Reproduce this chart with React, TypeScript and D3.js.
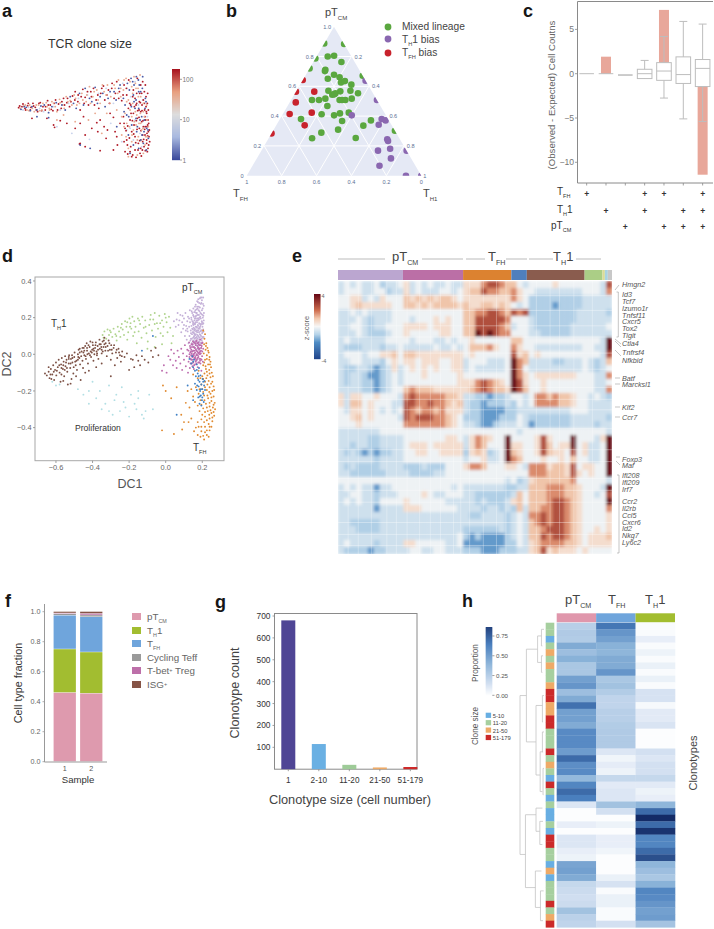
import React from 'react';
import * as d3 from 'd3';

const FONT = '"Liberation Sans", Arial, sans-serif';

// ---------- Panel a: clone size embedding (x, y pairs)
const aHigh = [5,157,15,160,24,155,32,163,40,150,48,170,55,158,62,145,70,172,78,160,85,150,92,178,100,165,108,148,116,180,125,168,133,155,140,185,150,172,158,160,167,192,175,205,183,175,190,150,198,212,205,188,215,165,222,205,230,215,238,180,246,155,252,200,260,222,270,195,278,170,285,215,292,185,300,235,308,205,315,178,322,225,330,195,336,240,342,165,350,210,355,185,362,245,367,150,372,225,45,125,90,125,110,105,113,98,188,48,190,50,205,40,250,28,243,85,240,112,190,110,200,130,290,128,272,90,250,120,280,140,310,110,300,70,290,30,320,130,325,95,330,60,325,25,335,155,340,120,345,85,342,40,350,140,352,105,355,70,348,15,360,170,362,125,365,50,368,95,370,20,372,145,375,115,378,75,380,180,382,40,385,130,386,100,388,160,390,60,392,25,394,120,395,85,396,45,375,200,383,205,388,190,360,200,368,175,376,165,380,100,385,75,378,55,372,35,355,30,340,25,332,45,322,55,390,140,393,105,391,80,384,150,328,88,333,102,338,66,343,140,347,118,351,78,353,160,357,52,359,118,361,92,363,148,364,30,367,128,369,58,371,172,373,88,374,12,376,148,377,30,379,118,381,62,383,170,384,92,386,28,387,120,389,145,390,50,391,100,392,170,393,72,394,35,395,150,396,110,397,70,398,90,399,55,393,200,386,225,378,235,369,200,358,165,348,190,339,170,329,215,319,195,306,185,296,200,286,230,275,210,264,180,255,215,243,195,233,165,224,190,212,205,202,170,193,190,184,195,174,180,162,175,152,185,143,165,135,175,122,150,112,170,103,152,94,165,86,160,74,148,66,170,58,150,50,162,42,158,34,170,26,150,18,168,8,162,130,118,150,110,175,95,205,75,225,95,262,100,268,65,295,85,322,110,302,45,345,10,358,8,333,18];
const aMid = [10,155,20,162,30,150,38,165,52,145,65,165,75,150,88,172,97,155,105,175,115,160,128,182,138,165,148,190,160,178,172,195,180,165,195,200,208,175,218,220,228,190,240,210,250,170,262,205,272,225,282,190,295,215,305,240,312,190,320,210,328,245,335,180,345,220,352,250,358,215,365,190,370,255,340,150,330,110,350,90,360,135,345,55,335,10,365,70,372,110,380,145,385,45,392,70,375,90,358,105,345,130,348,170,270,140,255,80,235,140,215,120,175,115,140,135,120,120,300,150,315,75,335,35,362,15,325,140,390,165,380,20,315,130,322,100,328,70,338,100,346,75,353,115,356,145,362,60,367,110,371,140,374,60,379,95,383,130,387,70,391,120,395,100,380,170,372,190,364,215,356,230,348,200,340,235,330,175,322,240,312,215,303,200,292,225,280,170,268,195,257,225,244,180,232,205,221,170,210,195,198,180,188,170,176,185,165,165,153,175,142,155,130,172,120,145,110,170,98,150,90,160,78,170,68,148,58,165,46,155,36,148,25,165];
const aLow = [12,152,28,158,45,160,60,150,82,165,95,142,118,172,145,150,160,190,178,155,188,200,200,165,225,175,235,218,250,190,265,160,280,205,298,180,310,225,325,165,338,210,348,235,358,180,365,240,372,205,378,250,368,225,355,155,345,105,335,75,360,85,372,60,383,120,390,95,395,65,375,130,366,35,340,20,350,45,60,130,95,127,190,45,220,35,300,100,330,135,382,85,388,175,350,195,322,145,336,130,344,160,352,175,358,125,362,100,366,155,370,120,376,75,380,50,385,155,389,30,394,90,386,185,377,215,366,205,359,250,352,225,343,245,332,230,320,185,306,215,292,205,274,185,258,200,242,170,218,185,205,215,170,170,135,165,105,160,72,162,40,148,22,160];
const aPale = [18,150,35,158,68,155,80,145,110,160,130,150,155,170,185,185,212,195,245,200,268,215,290,170,318,230,332,215,342,190,355,235,365,165,378,180,340,95,355,120,370,80,385,100,350,60,330,90,218,62,120,100,165,80,282,110,315,55,375,40,392,130];
const aTicks = [1, 10, 100];

// ---------- Panel b: ternary (pTCM, TH1) pairs, TFH is the rest
const bMixed = [.80,.064,.805,.098,.763,.161,.711,.095,.702,.097,.678,.161,.651,.139,.66,.202,.626,.227,.635,.245,.611,.294,.57,.309,.553,.361,.57,.183,.566,.253,.553,.232,.544,.218,.546,.229,.517,.343,.517,.192,.508,.16,.508,.12,.508,.278,.508,.292,.508,.311,.468,.228,.412,.223,.405,.298,.418,.325,.423,.373,.367,.363,.38,.121,.309,.369,.289,.283,.251,.249,.253,.498,.336,.5,.371,.526,.888,0,.884,.116,.787,0,.72,0,.671,.329,.302,.698];
const bTh1 = [.405,.399,.38,.583,.371,.61,.342,.585,.244,.683,.233,.693,.181,.731,.168,.668,.116,.768,.067,.727,.638,.362,.508,.492,.168,.832,0,.912,0,1];
const bTfh = [.564,.105,.492,.035,.414,.039,.423,.161,.338,.163,.642,0,.564,0,.284,0];
const bTicks = [0, .2, .4, .6, .8, 1];

// ---------- Panel c
const cCats = [0, 1, 2, 3, 4, 5, 6];
const cBars = [0, 1.92, -0.15, 0, 7.2, 0, -11.4];
const cQ1 = [0, 0, -0.15, -0.55, -0.75, -1.1, -1.45];
const cMed = [0, 0, -0.15, 0, 0.3, -0.1, 0.6];
const cQ3 = [0, 0, -0.15, 0.5, 1.25, 1.9, 1.6];
const cLo = [0, 0, -0.15, -0.55, -2.75, -5.1, -5.4];
const cHi = [0, 0, -0.15, 1.5, 4.2, 5.9, 5.6];
const cTicks = [5, 0, -5, -10];
const cTfh = [0, 3, 4, 6];
const cTh1 = [1, 3, 5, 6];
const cPt = [2, 4, 5, 6];

// ---------- Panel d (DC1, DC2 in thousandths)
const dBrown = [-660,-105,-650,-115,-640,-95,-635,-130,-628,-80,-620,-110,-615,-60,-610,-140,-605,-85,-600,-45,-598,-115,-590,-70,-585,-30,-580,-100,-575,-150,-572,-55,-568,-20,-562,-80,-558,-40,-555,-120,-550,-10,-548,-65,-542,-30,-538,-95,-535,-165,-530,-50,-528,-5,-522,-75,-518,-25,-515,-135,-510,-45,-505,-105,-500,-15,-498,10,-492,-60,-488,-35,-485,-85,-480,0,-476,25,-472,-20,-468,-55,-465,-140,-460,15,-455,-35,-452,-75,-448,35,-445,-5,-440,45,-436,-25,-432,60,-430,20,-425,-50,-420,5,-416,40,-412,70,-408,-15,-402,25,-398,50,-395,-35,-390,0,-386,35,-382,65,-378,15,-372,45,-368,-25,-362,80,-360,30,-355,55,-350,5,-345,70,-340,40,-335,90,-330,20,-328,60,-322,-10,-318,45,-312,75,-305,25,-300,-30,-298,50,-292,5,-285,35,-278,-60,-272,10,-265,-20,-258,30,-250,-5,-245,-40,-238,15,-225,-15,-212,5,-200,-85,-190,-25,-180,-30,-172,-70,-160,-5,-150,-35,-140,-60,-130,-10,-115,-30,-95,-45,-80,20,-70,-15,-55,35,-40,-5,-300,-120,-350,-50,-420,-90,-380,-70,-440,-100,-490,-120,-520,-160,-560,-145,-470,30,-450,10,-430,35,-410,15,-395,30,-375,5,-350,25,-335,55,-480,-30,-510,-20,-530,-25,-545,-45,-570,-75,-640,-70,-630,-110,-625,-135,-612,-95,-595,-90,-582,-60,-570,-110,-560,-60,-552,-85,-540,-75,-530,-15,-520,-50,-512,-5,-503,-70,-495,-40,-478,-15,-470,10,-462,-10,-455,35,-445,20,-438,-10,-428,0,-422,50,-414,-5,-404,10,-400,65,-392,20,-384,50,-376,-5,-370,25,-362,55,-352,40,-344,15,-338,75,-328,40,-315,20,-308,60,-295,25,-282,50,-268,25,-255,10,-240,-10];
const dGreen = [-345,105,-335,125,-325,85,-318,135,-310,105,-300,120,-292,95,-285,140,-275,110,-268,75,-262,150,-255,125,-248,95,-240,165,-235,135,-228,105,-222,180,-215,150,-210,80,-205,120,-198,195,-192,170,-188,140,-182,205,-178,100,-172,180,-165,150,-158,60,-152,195,-148,125,-140,165,-132,90,-128,205,-120,145,-112,185,-105,115,-98,70,-90,160,-82,215,-75,130,-68,190,-60,225,-55,95,-48,170,-42,140,-35,210,-28,115,-20,185,-12,150,-5,220,5,175,10,120,18,205,25,145,32,60,-60,40,-20,55,-100,30,40,100,-340,90,-305,130,-270,100,-245,145,-210,175,-195,150,-170,120,-145,185,-110,150,-85,190,-60,165,-30,170,0,200,-15,100];
const dCyan = [-480,-190,-450,-220,-420,-200,-400,-150,-420,-270,-380,-240,-360,-200,-350,-300,-330,-270,-310,-170,-310,-310,-290,-330,-280,-250,-270,-220,-250,-310,-240,-180,-220,-290,-200,-340,-190,-220,-170,-270,-160,-300,-150,-200,-130,-330,-110,-310,-90,-220,-70,-300,-120,-350,-230,-260,-620,-150,-600,-170,-580,-165,-150,-240];
const dLav = [60,190,70,160,80,215,85,120,90,175,95,140,100,195,105,100,108,225,112,155,115,80,118,180,120,125,122,205,125,60,128,150,130,100,132,240,133,175,135,35,137,130,138,85,140,200,141,155,142,60,144,110,145,225,146,180,148,20,149,135,150,90,151,250,152,160,153,65,154,205,155,115,156,40,157,185,158,140,159,85,160,230,161,165,162,105,163,55,164,270,165,195,166,125,167,75,168,150,169,245,170,95,171,175,172,30,173,215,174,130,175,60,176,285,177,155,178,100,179,195,180,45,181,260,182,120,183,170,184,80,185,235,186,140,187,305,188,65,189,205,190,105,191,160,192,275,193,35,194,130,195,220,196,85,197,180,198,295,199,115,200,60,201,150,202,250,203,200,204,90,205,310,206,170,207,125,208,265,209,225,190,310,178,300,170,225,163,205,156,100,150,175,145,140,152,120,158,165,166,210,174,250,182,215,188,150,172,120,164,150,157,130,180,140,186,90,176,185,168,90,135,75,138,115,141,190,143,85,146,50,147,120,149,165,151,75,152,210,153,145,154,95,155,170,156,230,157,70,158,110,159,195,160,135,161,60,162,240,163,90,164,175,165,110,166,50,167,225,168,130,169,185,170,70,171,145,172,260,173,105,174,195,175,85,176,160,177,215,178,130,179,55,180,240,181,95,182,190,183,70,184,145,185,200,186,110,187,255,188,165,189,125,190,225,191,60,192,195,193,100,194,165,195,280,196,130,197,75,198,240,199,175,200,95,201,215,202,120,203,165,204,275,205,135,206,210,207,95,208,185,197,310,183,280,172,290,160,260,150,215,142,235,128,195,118,140,110,130,100,160,92,210,75,185,65,225,55,150,45,180];
const dMag = [15,-10,25,-30,30,25,40,-60,45,5,55,-35,60,-75,65,20,72,-15,80,-50,85,30,90,-85,95,5,100,-30,105,50,110,-65,115,-10,118,25,122,-100,125,-40,128,65,130,0,132,-75,135,35,137,-25,139,-5,141,55,143,-50,145,15,147,-30,149,70,151,-10,153,40,155,-60,157,5,159,-20,161,60,163,-40,165,25,167,-5,169,75,171,-30,173,45,175,-70,177,10,179,-15,181,55,183,-45,185,30,187,0,189,80,191,-25,193,20,195,-90,197,45,199,-10,201,65,148,-15,156,20,164,-25,172,15,180,35,188,-35,140,25,152,0,160,35,168,-50,176,-5,184,10,192,50,134,10,144,-5,-20,-90,-10,-60,5,-100,125,20,130,-15,133,45,136,-50,138,15,140,-30,142,5,144,40,146,-15,148,55,150,-45,152,20,154,-5,155,65,156,-25,158,35,160,-55,161,10,162,-15,164,50,166,-35,168,20,170,0,172,60,174,-20,176,35,178,-45,180,5,182,25,184,-25,186,50,188,15,190,-50,192,5,194,35,196,-30,198,60,200,15,203,-40,205,30,178,65,166,70,154,-80,146,-65];
const dOrange = [205,130,215,110,212,85,222,60,210,55,228,35,218,25,235,10,208,5,240,-15,225,-5,245,-40,215,-30,232,-55,248,-70,205,-60,238,-85,220,-80,252,-100,212,-105,228,-115,245,-125,200,-120,235,-145,255,-150,215,-150,262,-175,195,-165,240,-180,225,-195,255,-200,185,-190,245,-215,210,-225,262,-230,232,-240,250,-255,190,-250,268,-265,220,-270,240,-285,258,-290,205,-295,270,-300,230,-310,250,-320,185,-310,265,-335,215,-340,240,-350,255,-365,195,-355,235,-380,250,-395,175,-370,215,-395,240,-415,195,-420,225,-440,210,-465,190,-450,175,-440,235,-450,165,-400,155,-420,140,-350,125,-370,100,-370,90,-410,45,-435,-20,-415,-15,-170,0,-200,30,-240,60,-180,110,-265,85,-330,130,-290,150,-230,165,-180,175,-130,180,-90,150,-110,140,-190,120,-200,160,-260,175,-280,180,-215,200,-190,190,-130,220,45,232,20,225,-25,238,-30,210,-45,242,-55,218,-65,225,-95,240,-105,258,-120,205,-135,222,-130,248,-160,228,-165,265,-195,215,-180,238,-205,205,-205,228,-225,250,-235,212,-250,240,-265,262,-275,225,-290,195,-275,245,-305,262,-315,215,-315,238,-330,200,-330,255,-345,225,-360,210,-370,240,-395,225,-415,205,-445,215,-425,180,-395,195,-395];
const dBlue = [-130,20,-70,100,60,-330,130,-25,140,-50,150,-70,155,-30,160,-90,165,-120,170,-55,175,-105,178,-140,180,-175,182,-75,185,-150,188,-200,190,-115,192,-225,195,-165,198,-250,200,-190,202,-135,205,-215,208,-260,210,-170,212,-145,185,-270,178,-235,170,-195,195,-280,215,-195,150,-250,120,-170,160,-160,172,-170,186,-230,192,-190,200,-235,205,-150,180,-120,170,-85,150,-40,145,-10];
const dXTicks = [-0.6, -0.4, -0.2, 0, 0.2];
const dYTicks = [0.4, 0.2, 0, -0.2, -0.4];

// ---------- Panel e: z-score table, one digit per cell, index into eLevels
const eLevels = [-2.6, -1.8, -1.05, -0.62, -0.12, 0.55, 1.05, 1.7, 2.6, 4];
const eRows = [
'34343342334'+'5343433433'+'55578876'+'643'+'4444544444'+'443'+'8',
'34443344233'+'5343334434'+'56687766'+'754'+'4333333334'+'443'+'7',
'44553435444'+'6565656654'+'55555555'+'754'+'2222222223'+'333'+'3',
'44565555544'+'6656566665'+'65566565'+'434'+'2222122223'+'333'+'3',
'33434333344'+'4444444444'+'66778876'+'878'+'2222222233'+'333'+'2',
'33343233344'+'4344454544'+'66888887'+'444'+'3222222233'+'333'+'3',
'33443233444'+'5555455544'+'66888876'+'344'+'3222222333'+'333'+'4',
'33343222344'+'5444445544'+'66989877'+'444'+'3322222333'+'333'+'3',
'34333333444'+'4344433434'+'45444444'+'664'+'4444444444'+'443'+'9',
'32223332334'+'3333343343'+'46667544'+'754'+'4333333334'+'433'+'9',
'34443445564'+'6655555555'+'45444444'+'856'+'4544444444'+'443'+'8',
'33443332454'+'5545554455'+'34443334'+'976'+'3333223334'+'323'+'6',
'32233212353'+'4545454455'+'34333334'+'974'+'3333333334'+'323'+'4',
'32332112343'+'4445444445'+'44444444'+'975'+'4555555544'+'433'+'7',
'32332212343'+'4444444445'+'55787654'+'985'+'4454444444'+'433'+'4',
'33332212344'+'6766655555'+'56787665'+'986'+'4454444444'+'433'+'7',
'53554454443'+'7877777665'+'33221223'+'443'+'4776766544'+'343'+'2',
'53664544433'+'8877877656'+'32212223'+'243'+'4777766544'+'333'+'3',
'43554543434'+'8767767555'+'32211112'+'233'+'3333333444'+'333'+'3',
'44564544443'+'8788877654'+'22211122'+'243'+'2222222333'+'333'+'2',
'44454444444'+'7777777654'+'33211233'+'343'+'1222222333'+'323'+'3',
'33333334444'+'4444444444'+'44444444'+'434'+'4444444444'+'444'+'3',
'33333223333'+'4444444554'+'35765449'+'444'+'4585444944'+'435'+'9',
'33233223333'+'4555455555'+'35764449'+'554'+'4586455945'+'334'+'9',
'32321212233'+'4455445555'+'25652349'+'654'+'4586554845'+'334'+'9',
'33333323333'+'4444444444'+'34453349'+'764'+'4454454644'+'334'+'9',
'32322223333'+'2223222444'+'57764445'+'543'+'7775665845'+'544'+'9',
'33222222333'+'3222233444'+'44444444'+'444'+'7776665854'+'544'+'9',
'44444444444'+'4444444444'+'44444443'+'423'+'5666666744'+'444'+'3',
'34343313344'+'4444444434'+'33333332'+'233'+'6667776654'+'443'+'9',
'33443323334'+'4445433444'+'33222222'+'364'+'6667776654'+'434'+'8',
'34343324444'+'5444444333'+'33232223'+'564'+'6667887654'+'444'+'9',
'33333313333'+'5554444443'+'33323323'+'263'+'6677887654'+'444'+'7',
'33333333333'+'3333333333'+'32233332'+'343'+'7787887654'+'444'+'5',
'33222223333'+'3333333333'+'33333332'+'343'+'6787887654'+'444'+'5',
'33322223333'+'3333333333'+'22222232'+'343'+'6678887654'+'454'+'5',
'33333333333'+'3333333334'+'21211112'+'343'+'6687887654'+'555'+'6',
'34333323333'+'5544444334'+'11111112'+'243'+'5677776654'+'555'+'5',
'32222122333'+'3443344333'+'22211122'+'233'+'5685655545'+'444'+'4',
];
const ePaleRows = [2.1, 4.2, 6.4, 8.0, 10.3, 12.6, 15.2, 16.9, 18.4, 21.1, 24.1, 25.8, 28.2, 29.9, 31.6, 34.5, 36.2, 37.8];
const ePaleCols = [1.7, 3.4, 5.6, 8.2, 9.8, 11.6, 13.7, 15.5, 17.2, 19.4, 20.6, 22.1, 24.4, 26.6, 28.2, 33.3, 35.6, 37.2, 39.6, 42.7];
const eBlockEnds = [10.9, 21, 29.1, 31.7, 41.4, 44.4, 44.8, 45.3, 46];
const eBlockColors = ['#bba6d0','#bb6fa6','#dc8230','#4f7fbd','#8a5c4e','#abce86','#dcdc96','#a9d3e2','#c8c8c8'];
const eGenes = ['Hmgn2','Id3','Tcf7','Izumo1r','Tnfsf11','Cxcr5','Tox2','Tigit','Ctla4','Tnfrsf4','Nfkbid','Batf','Marcksl1','Klf2','Ccr7','Foxp3','Maf','Ifi208','Ifi209','Irf7','Ccr2','Il2rb','Ccl5','Cxcr6','Id2','Nkg7','Ly6c2'];
const eGeneY = [284,294,301,308,315,321,328,335,343,352,360,378,384,407,417,459,465,475,482,489,501,508,515,522,528,535,542];

// ---------- Panel f
const fSamples = ['1', '2'];
const fTypes = ['pTCM', 'TH1', 'TFH', 'Cycling Teff', 'T-bet+ Treg', 'ISG+'];
const fColors = ['#de9aae', '#a2bd30', '#6fa5dc', '#9a9a9a', '#bd6fa9', '#865446'];
const fSample1 = [.46, .29, .225, .01, .005, .01];
const fSample2 = [.455, .275, .235, .012, .01, .013];
const fTicks = [0, .2, .4, .6, .8, 1];

// ---------- Panel g
const gCats = ['1', '2-10', '11-20', '21-50', '51-179'];
const gVals = [680, 115, 20, 8, 10];
const gColors = ['#4f4595', '#6ab0e3', '#9ecb98', '#edaa68', '#cd2a2a'];
const gTicks = [100, 200, 300, 400, 500, 600, 700];

// ---------- Panel h
const hPt = [.25,.28,.27,.45,.35,.42,.3,.3,.5,.55,.35,.45,.7,.5,.5,.45,.6,.6,.6,.52,.72,.58,.6,.38,.62,.72,.65,.12,.01,.01,.08,.01,.12,.12,.08,.06,.48,.5,.45,.2,.18,.16,.18,.33,.24,.22];
const hTfh = [.68,.55,.5,.42,.4,.45,.45,.55,.3,.33,.27,.22,.22,.25,.25,.27,.28,.28,.28,.12,.05,.09,.06,.2,.1,.12,.12,.33,.15,.01,.06,.01,.08,.08,.05,.01,.01,.01,.07,.14,.02,.07,.07,.02,.02,.15];
const hTh1 = [.02,.02,.08,.02,.06,.02,.07,.02,.07,.02,.14,.14,.03,.1,.1,.13,.01,.01,.01,.15,.12,.15,.15,.2,.1,.06,.08,.4,.72,.95,.72,.92,.62,.62,.72,.82,.4,.35,.3,.42,.62,.6,.55,.5,.52,.32];
const hClone = [1,1,0,1,2,1,2,1,1,2,3,3,2,2,3,3,1,1,1,3,1,2,1,0,3,1,0,1,0,0,1,0,3,3,1,1,0,2,0,1,1,1,3,1,2,3];
const hCloneLabels = ['5-10', '11-20', '21-50', '51-179'];
const hCloneColors = ['#68aee2', '#a6cf9f', '#eeaa67', '#cb2a2a'];
const hHeaders = ['#e097ac', '#6fa5dc', '#a2bd30'];
const hTicks = [0, .25, .5, .75];
// dendrogram links: parent x, top row, bottom row, top child x, bottom child x (x in tree height units)
const hLinks = [
[0,10.5,34.5,20,17],[20,3.5,17.5,55,50],[55,1.5,5.5,67,67],[50,12,22.5,70,63],
[17,28.5,39.5,50,48],[50,27.5,31,70,62],[48,37,42.5,67,64],[67,0.5,3,75,70],[67,4.5,7,72,70],
[70,10.5,14.5,75,72],[63,19,25,72,70],[62,29.5,33,72,70],[70,16,19,75,72],[72,21.5,25.5,75,73],[64,40,44.5,74,72],
];

const coolwarm = d3.scaleLinear<string>().domain([0, .25, .5, .75, 1]).range(['#3b4a9c', '#a9b9e0', '#dddddd', '#e8a080', '#a8141f']);
const eColor = d3.scaleLinear<string>().domain([-4, -2, -1, 0, 1, 2, 4]).range(['#21468c', '#4f8cc4', '#b5d3e8', '#f6f6f6', '#f2c8ae', '#cf6f50', '#670815']);
const hColor = d3.scaleLinear<string>().domain([0, .15, .4, .65, .95]).range(['#ffffff', '#d3e0f1', '#8fb6da', '#4a7fbe', '#142b66']);

const pairs = (a: number[]) => d3.range(0, a.length, 2).map(i => [a[i], a[i + 1]]);

function Rich({ x, y, a, sub, b, size, fill = '#444', anchor = 'start', style, transform }: any) {
  return (
    <text x={x} y={y} fontSize={size} fill={fill} textAnchor={anchor} style={style} transform={transform}>
      {a}
      {sub ? <tspan dy={size * .32} fontSize={size * .55}>{sub}</tspan> : null}
      {b ? <tspan dy={sub ? -size * .32 : 0}>{b}</tspan> : null}
    </text>
  );
}
const Letter = ({ x, y, t }: any) => <text x={x} y={y} fontSize={18} fontWeight="bold" fill="#161616">{t}</text>;
const Line = ({ x1, y1, x2, y2, c = '#aaa', w = .8 }: any) => <line x1={x1} y1={y1} x2={x2} y2={y2} stroke={c} strokeWidth={w} />;

function PanelA() {
  const x = d3.scaleLinear().domain([0, 400]).range([17, 150]);
  const y = d3.scaleLinear().domain([0, 255]).range([160, 75]);
  const cb = d3.scaleLog().domain([1, 180]).range([160, 69]);
  const groups: [number[], string][] = [[aPale, '#c9d3ec'], [aHigh, '#b11d2a'], [aMid, '#e9a98f'], [aLow, '#4a5aa8']];
  return (
    <g>
      <Letter x={2} y={17} t="a" />
      <text x={48} y={48} fontSize={12.4} fill="#333">TCR clone size</text>
      {groups.map(([pts, c], k) => pairs(pts).map((p, i) => <circle key={k + '-' + i} cx={x(p[0])} cy={y(p[1])} r={.95} fill={c} />))}
      {d3.range(0, 91).map(i => <rect key={i} x={172} y={69 + i} width={8} height={1.2} fill={coolwarm(1 - i / 90)} />)}
      {aTicks.map(t => <g key={t}><Line x1={180} x2={182} y1={cb(t)} y2={cb(t)} c="#888" /><text x={182.5} y={cb(t) + 2.5} fontSize={6.5} fill="#777">{t}</text></g>)}
    </g>
  );
}

function PanelB() {
  const L = [246.7, 175.7], W = 174.6, H = 149;
  const xs = d3.scaleLinear().domain([0, 1]).range([L[0], L[0] + W]);
  const ya = d3.scaleLinear().domain([0, 1]).range([L[1], L[1] - H]);
  const px = (a: number, c: number) => xs(c + a / 2);
  const tri = `M${px(0, 0)},${ya(0)}L${px(1, 0)},${ya(1)}L${px(0, 1)},${ya(0)}Z`;
  const groups: [number[], string][] = [[bMixed, '#5aa73f'], [bTh1, '#8a67b0'], [bTfh, '#c8222c']];
  const grid = [.2, .4, .6, .8];
  const tc = '#5b6f95';
  return (
    <g>
      <Letter x={226} y={17} t="b" />
      <clipPath id="tri"><path d={tri} /></clipPath>
      <path d={tri} fill="#e5e9f5" />
      {grid.map(t => <g key={t}>
        <line x1={px(t, 0)} y1={ya(t)} x2={px(t, 1 - t)} y2={ya(t)} stroke="#fff" strokeWidth={1} />
        <line x1={px(0, t)} y1={ya(0)} x2={px(1 - t, t)} y2={ya(1 - t)} stroke="#fff" strokeWidth={1} />
        <line x1={px(0, 1 - t)} y1={ya(0)} x2={px(1 - t, 0)} y2={ya(1 - t)} stroke="#fff" strokeWidth={1} />
      </g>)}
      <g clipPath="url(#tri)">
        {groups.map(([pts, c], k) => pairs(pts).map((p, i) => <circle key={k + '-' + i} cx={px(p[0], p[1])} cy={ya(p[0])} r={3.3} fill={c} />))}
      </g>
      {bTicks.map(t => {
        const lab = t === 0 ? '0' : t === 1 ? '1' : t.toFixed(1);
        return <g key={t} fontSize={5.6} fill={tc}>
          <text x={px(t, 0) - 3} y={ya(t) + 2} textAnchor="end">{t === 1 ? '1.0' : lab}</text>
          {t > 0 && t < 1 ? <text x={px(1 - t, t) + 3} y={ya(1 - t) + 2}>{lab}</text> : null}
          {t === 1 ? <text x={px(0, 1) + 2} y={ya(0) + 2}>1</text> : null}
          <text x={px(0, 1 - t)} y={ya(0) + 8} textAnchor="middle">{lab}</text>
        </g>;
      })}
      <Rich x={325} y={16} a="pT" sub="CM" size={11} />
      <Rich x={233} y={197} a="T" sub="FH" size={11} />
      <Rich x={423} y={197} a="T" sub="H1" size={11} />
      {[0, 1, 2].map(i => <circle key={i} cx={388} cy={[27, 39, 53][i]} r={3.4} fill={groups[i][1]} />)}
      <text x={402} y={30} fontSize={10.2} fill="#444">Mixed lineage</text>
      <Rich x={402} y={43} a="T" sub="H" b="1 bias" size={10.2} />
      <Rich x={402} y={56} a="T" sub="FH" b=" bias" size={10.2} />
    </g>
  );
}

function PanelC() {
  const y = d3.scaleLinear().domain([0, 5]).range([73.7, 29.4]);
  const x = d3.scaleBand<number>().domain(cCats).range([577, 712.3]);
  const gc = '#bdbdbd';
  return (
    <g>
      <Letter x={523} y={17} t="c" />
      <text transform={`translate(555,${95}) rotate(-90)`} textAnchor="middle" fontSize={9.6} fill="#666">(Observed - Expected) Cell Coutns</text>
      {cCats.map(c => {
        const cx = x(c)! + x.bandwidth() / 2, hw = 7.3;
        const v = cBars[c];
        return <g key={c}>
          {c !== 2 && v !== 0 ? <rect x={cx - 5} width={10} y={Math.min(y(v), y(0))} height={Math.abs(y(v) - y(0))} fill="#e8a79a" /> : null}
          <Line x1={cx} x2={cx} y1={y(cLo[c])} y2={y(cHi[c])} c={gc} w={1} />
          {cHi[c] !== cQ3[c] ? <Line x1={cx - 4} x2={cx + 4} y1={y(cHi[c])} y2={y(cHi[c])} c={gc} w={1} /> : null}
          {cLo[c] !== cQ1[c] ? <Line x1={cx - 4} x2={cx + 4} y1={y(cLo[c])} y2={y(cLo[c])} c={gc} w={1} /> : null}
          <rect x={cx - hw} width={hw * 2} y={y(cQ3[c])} height={y(cQ1[c]) - y(cQ3[c])} fill="#fff" stroke={c === 2 ? '#999' : gc} strokeWidth={1} />
          <Line x1={cx - hw} x2={cx + hw} y1={y(cMed[c])} y2={y(cMed[c])} c={c === 2 ? '#999' : gc} w={1} />
          <Line x1={cx} x2={cx} y1={183} y2={185.5} c="#888" />
        </g>;
      })}
      <path d="M713,1.5H577.5V183H713" fill="none" stroke="#8a8a8a" strokeWidth={1} />
      {cTicks.map(t => <g key={t}><Line x1={575} x2={577} y1={y(t)} y2={y(t)} c="#888" /><text x={574} y={y(t) + 3} textAnchor="end" fontSize={8.6} fill="#777">{t < 0 ? '\u2212' + (-t) : t}</text></g>)}
      <Rich x={557} y={195} a="T" sub="FH" size={10} fill="#333" />
      <Rich x={557} y={213} a="T" sub="H" b="1" size={10} fill="#333" />
      <Rich x={551} y={229} a="pT" sub="CM" size={10} fill="#333" />
      {[cTfh, cTh1, cPt].map((arr, r) => arr.map(c => <text key={r + '-' + c} x={x(c)! + x.bandwidth() / 2} y={[197, 214, 230][r]} textAnchor="middle" fontSize={8.5} fontWeight="bold" fill="#333">+</text>))}
    </g>
  );
}

function PanelD() {
  const x = d3.scaleLinear().domain([0, 1]).range([165.7, 348.6]);
  const y = d3.scaleLinear().domain([0, 1]).range([354.3, 171]);
  const groups: [number[], string][] = [[dCyan, '#b2dfe4'], [dGreen, '#b0d48e'], [dBrown, '#7c5044'], [dLav, '#c4b0d8'], [dOrange, '#e08a30'], [dMag, '#bd6cae'], [dBlue, '#3f80c4']];
  return (
    <g>
      <Letter x={2} y={262} t="d" />
      <rect x={35} y={277} width={189} height={183.7} fill="none" stroke="#a8a8a8" strokeWidth={1} />
      {groups.map(([pts, c], k) => pairs(pts).map((p, i) => <circle key={k + '-' + i} cx={x(p[0] / 1000)} cy={y(p[1] / 1000)} r={.95} fill={c} />))}
      {dXTicks.map(t => <g key={t}><Line x1={x(t)} x2={x(t)} y1={460.7} y2={463} c="#888" /><text x={x(t)} y={470} textAnchor="middle" fontSize={7.4} fill="#666">{t < 0 ? '\u2212' + (-t).toFixed(1) : t.toFixed(1)}</text></g>)}
      {dYTicks.map(t => <g key={t}><Line x1={33} x2={35} y1={y(t)} y2={y(t)} c="#888" /><text x={31.5} y={y(t) + 2.6} textAnchor="end" fontSize={7.4} fill="#666">{t < 0 ? '\u2212' + (-t).toFixed(1) : t.toFixed(1)}</text></g>)}
      <text x={130} y={488} textAnchor="middle" fontSize={12.5} fill="#555">DC1</text>
      <text transform="translate(11,364) rotate(-90)" textAnchor="middle" fontSize={12.5} fill="#555">DC2</text>
      <Rich x={182} y={291} a="pT" sub="CM" size={10} fill="#333" />
      <Rich x={51} y={327} a="T" sub="H" b="1" size={10} fill="#333" />
      <text x={75} y={431} fontSize={8.6} fill="#333">Proliferation</text>
      <Rich x={193} y={451} a="T" sub="FH" size={10} fill="#333" />
    </g>
  );
}

function PanelE() {
  const x = d3.scaleLinear().domain([0, 46]).range([338, 612]);
  const y = d3.scaleLinear().domain([0, eRows.length]).range([281, 554]);
  const cb = d3.scaleLinear().domain([-4, 4]).range([358, 294]);
  const c2 = '#8a8a8a';
  const rules = [[338, 385], [422, 463], [466, 485], [506, 527], [529, 553], [576, 601]];
  const leaders = [[615, 290, 619, 285], [615, 339, 621, 344], [615, 341, 621, 347], [615, 350, 621, 356], [615, 378, 620, 378], [615, 384, 620, 384], [615, 407, 620, 407], [615, 417, 620, 417], [616, 457, 620, 457], [616, 461, 620, 465],
    [618.3, 292, 618.3, 337], [616.5, 292, 618.3, 292], [616.5, 337, 618.3, 337], [619, 475, 619, 553], [617, 475, 619, 475], [617, 553, 619, 553]];
  return (
    <g>
      <Letter x={292} y={262} t="e" />
      {rules.map((r, i) => <Line key={i} x1={r[0]} x2={r[1]} y1={259} y2={259} c="#aaa" w={.8} />)}
      <Rich x={392} y={261} a="pT" sub="CM" size={13} />
      <Rich x={488} y={261} a="T" sub="FH" size={13} />
      <Rich x={553} y={261} a="T" sub="H" b="1" size={13} />
      {eBlockEnds.map((e, i) => <rect key={i} x={x(i ? eBlockEnds[i - 1] : 0)} y={270} width={x(e) - x(i ? eBlockEnds[i - 1] : 0)} height={10} fill={eBlockColors[i]} />)}
      <filter id="soft" x="-5%" y="-5%" width="110%" height="110%"><feGaussianBlur stdDeviation="1.5" /></filter>
      <clipPath id="eclip"><rect x={338} y={281} width={274} height={273} /></clipPath>
      <g clipPath="url(#eclip)">
        <g filter="url(#soft)">
          {eRows.map((row, r) => row.split('').map((ch, c) => (
            <rect key={r + '-' + c} x={x(c)} y={y(r)} width={x(1) - x(0) + .4} height={y(1) - y(0) + .4} fill={eColor(eLevels[+ch])} />
          )))}
        </g>
        {ePaleRows.map(r => <line key={r} x1={338} x2={612} y1={y(r)} y2={y(r)} stroke="#fff" strokeOpacity={.4} strokeWidth={.9} />)}
        {ePaleCols.map(c => <line key={c} y1={281} y2={554} x1={x(c)} x2={x(c)} stroke="#fff" strokeOpacity={.35} strokeWidth={.9} />)}
      </g>
      {d3.range(0, 65).map(i => <rect key={i} x={314} y={294 + i} width={6.5} height={1.2} fill={eColor(cb.invert(294 + i))} />)}
      <text x={321.5} y={298} fontSize={5.5} fill="#666">4</text>
      <text x={321.5} y={363} fontSize={5.5} fill="#666">-4</text>
      <text transform="translate(309,328) rotate(-90)" textAnchor="middle" fontSize={7.5} fill="#666">z-score</text>
      {leaders.map((l, i) => <Line key={i} x1={l[0]} y1={l[1]} x2={l[2]} y2={l[3]} c={c2} w={.5} />)}
      {eGenes.map((g, i) => <text key={g} x={622} y={eGeneY[i] + 2.5} fontSize={7.2} fontStyle="italic" fill="#555">{g}</text>)}
    </g>
  );
}

function PanelF() {
  const y = d3.scaleLinear().domain([0, 1]).range([761.7, 611.7]);
  const x = d3.scaleBand().domain(fSamples).range([52, 104]).paddingInner(.16).paddingOuter(.06);
  const stack = (vals: number[]) => { let s = 0; return vals.map(v => { const r = [s, s + v]; s += v; return r; }); };
  const ly = [613, 627, 640, 654, 667, 681];
  return (
    <g>
      <Letter x={5} y={607} t="f" />
      {[fSample1, fSample2].map((vals, k) => stack(vals).map((r, i) => (
        <rect key={k + '-' + i} x={x(fSamples[k])} width={x.bandwidth()} y={y(r[1])} height={y(r[0]) - y(r[1]) - .4} fill={fColors[i]} />
      )))}
      <path d="M44.5,604V762H107" fill="none" stroke="#999" strokeWidth={1} />
      {fTicks.map(t => <g key={t}><Line x1={42.5} x2={44.5} y1={y(t)} y2={y(t)} c="#999" /><text x={40.5} y={y(t) + 2.6} textAnchor="end" fontSize={7.2} fill="#666">{t.toFixed(1)}</text></g>)}
      {fSamples.map(s => <text key={s} x={x(s)! + x.bandwidth() / 2} y={771} textAnchor="middle" fontSize={7.2} fill="#555">{s}</text>)}
      <text x={78} y={783} textAnchor="middle" fontSize={9.6} fill="#333">Sample</text>
      <text transform="translate(22,683) rotate(-90)" textAnchor="middle" fontSize={10.8} fill="#333">Cell type fraction</text>
      {fTypes.map((t, i) => <rect key={t} x={132} y={ly[i]} width={9} height={7} fill={fColors[i]} />)}
      <Rich x={147} y={620} a="pT" sub="CM" size={9.8} fill="#666" />
      <Rich x={147} y={634} a="T" sub="H" b="1" size={9.8} fill="#666" />
      <Rich x={147} y={647} a="T" sub="FH" size={9.8} fill="#666" />
      <text x={147} y={661} fontSize={9.8} fill="#666">Cycling Teff</text>
      <text x={147} y={674} fontSize={9.8} fill="#666">T-bet<tspan dy={-2.5} fontSize={5.5}>+</tspan><tspan dy={2.5}> Treg</tspan></text>
      <text x={147} y={688} fontSize={9.8} fill="#666">ISG<tspan dy={-2.5} fontSize={5.5}>+</tspan></text>
    </g>
  );
}

function PanelG() {
  const y = d3.scaleLinear().domain([0, 700]).range([769.2, 616]);
  const x = d3.scaleBand().domain(gCats).range([274, 416.5]).paddingInner(.33).paddingOuter(.0);
  const step = x.step();
  return (
    <g>
      <Letter x={215} y={608} t="g" />
      <rect x={274.5} y={613.5} width={142.5} height={155.7} fill="none" stroke="#8a8a8a" strokeWidth={1} />
      {gCats.map((c, i) => {
        const cx = 288.3 + i * (step * 1.0);
        return <g key={c}>
          <rect x={cx - 7} width={14} y={y(gVals[i])} height={y(0) - y(gVals[i])} fill={gColors[i]} />
          <Line x1={cx} x2={cx} y1={769.2} y2={771.2} c="#888" />
          <text x={cx} y={783} textAnchor="middle" fontSize={8.2} fill="#333">{c}</text>
        </g>;
      })}
      {gTicks.map(t => <g key={t}><Line x1={272.5} x2={274.5} y1={y(t)} y2={y(t)} c="#888" /><text x={270.5} y={y(t) + 3} textAnchor="end" fontSize={8.4} fill="#333">{t}</text></g>)}
      <text transform="translate(239,693) rotate(-90)" textAnchor="middle" fontSize={12.6} fill="#444">Clonotype count</text>
      <text x={350} y={804} textAnchor="middle" fontSize={12.8} fill="#444">Clonotype size (cell number)</text>
    </g>
  );
}

function PanelH() {
  const n = hPt.length;
  const y = d3.scaleLinear().domain([0, n]).range([622.7, 927.3]);
  const x = d3.scaleLinear().domain([0, 3]).range([556.7, 675]);
  const cb = d3.scaleLinear().domain([0, .75]).range([695.3, 636]);
  const tx = d3.scaleLinear().domain([0, 75]).range([520, 544]);
  return (
    <g>
      <Letter x={462} y={607} t="h" />
      <Rich x={565} y={604} a="pT" sub="CM" size={13} />
      <Rich x={608} y={604} a="T" sub="FH" size={13} />
      <Rich x={645} y={604} a="T" sub="H" b="1" size={13} />
      {hHeaders.map((c, i) => <rect key={i} x={x(i)} width={x(1) - x(0)} y={613.3} height={9} fill={c} />)}
      {[hPt, hTfh, hTh1].map((col, j) => col.map((v, i) => (
        <rect key={j + '-' + i} x={x(j)} width={x(1) - x(0) + .3} y={y(i)} height={y(1) - y(0) + .3} fill={hColor(v)} />
      )))}
      {hClone.map((c, i) => <rect key={i} x={545.7} width={8.6} y={y(i)} height={y(1) - y(0) + .3} fill={hCloneColors[c]} />)}
      {hLinks.map((l, i) => <path key={i} d={`M${tx(l[3])},${y(l[1] + .5)}H${tx(l[0])}V${y(l[2] + .5)}H${tx(l[4])}`} fill="none" stroke="#c4c4c4" strokeWidth={.8} />)}
      {d3.range(0, 69).map(i => <rect key={i} x={485.7} y={627 + i} width={6.6} height={1.2} fill={hColor(cb.invert(627 + i))} />)}
      {hTicks.map(t => <g key={t}><Line x1={492.3} x2={494.5} y1={cb(t)} y2={cb(t)} c="#888" /><text x={496} y={cb(t) + 2.2} fontSize={6.2} fill="#555">{t.toFixed(2)}</text></g>)}
      <text transform="translate(478,663) rotate(-90)" textAnchor="middle" fontSize={8.2} fill="#555">Proportion</text>
      <text transform="translate(478,726) rotate(-90)" textAnchor="middle" fontSize={8.2} fill="#555">Clone size</text>
      {hCloneLabels.map((c, i) => <g key={c}>
        <rect x={485.7} y={712.7 + i * 7.4} width={5.4} height={5.2} fill={hCloneColors[i]} />
        <text x={492.7} y={717.8 + i * 7.4} fontSize={5.8} fill="#444">{c}</text>
      </g>)}
      <text transform="translate(697,763) rotate(-90)" textAnchor="middle" fontSize={11} fill="#444">Clonotypes</text>
    </g>
  );
}

export default function App() {
  return (
    <svg width={714} height={929} viewBox="0 0 714 929" style={{ position: 'absolute', left: 0, top: 0, fontFamily: FONT, background: '#fff' }}>
      <PanelA />
      <PanelB />
      <PanelC />
      <PanelD />
      <PanelE />
      <PanelF />
      <PanelG />
      <PanelH />
    </svg>
  );
}
